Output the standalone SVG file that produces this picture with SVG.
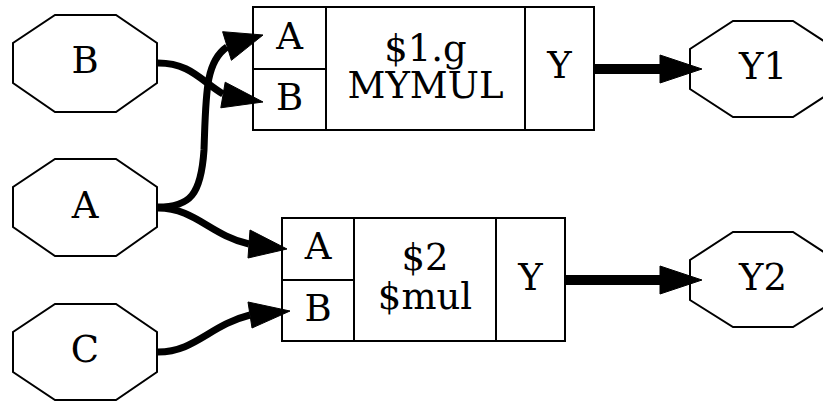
<svg xmlns="http://www.w3.org/2000/svg" width="823" height="401" viewBox="0 0 823 401">
<style>
.oct{fill:#fff;stroke:#000;stroke-width:2}
.box{fill:#fff;stroke:#000;stroke-width:2}
.div{fill:none;stroke:#000;stroke-width:2}
text{font-family:"DejaVu Serif","Liberation Serif",serif;font-size:37px;text-anchor:middle;fill:#000}
.e{fill:none;stroke:#000;stroke-width:7}
.eo{fill:none;stroke:#000;stroke-width:10}
.ah{fill:#000;stroke:#000;stroke-width:1}
</style>
<rect width="823" height="401" fill="#fff"/>
<g id="nB"><polygon class="oct" points="55,15 116,15 157,43 157,83 116,112 55,112 13,83 13,43"/><text x="85" y="73">B</text></g>
<g id="nA"><polygon class="oct" points="55,159 116,159 157,187 157,227 116,256 55,256 13,227 13,187"/><text x="85" y="218">A</text></g>
<g id="nC"><polygon class="oct" points="55,304 116,304 157,332 157,372 116,400 55,400 13,372 13,332"/><text x="85" y="362">C</text></g>
<g id="nY1"><polygon class="oct" points="733,21 793,21 836,49 836,89 793,117 733,117 690,89 690,49"/><text x="763" y="79">Y1</text></g>
<g id="nY2"><polygon class="oct" points="733,232 793,232 836,260 836,300 793,327 733,327 690,300 690,260"/><text x="763" y="290">Y2</text></g>
<g id="c1">
<rect class="box" x="253" y="7" width="341" height="123"/>
<path class="div" d="M326,7V130M525,7V130M253,69H326"/>
<text x="289.5" y="49">A</text><text x="289.5" y="110">B</text>
<text x="425.5" y="61">$1.g</text><text x="425.5" y="98">MYMUL</text>
<text x="559.5" y="78">Y</text>
</g>
<g id="c2">
<rect class="box" x="282" y="218" width="283" height="123"/>
<path class="div" d="M354,218V341M496,218V341M282,280H354"/>
<text x="318" y="259">A</text><text x="318" y="321">B</text>
<text x="425" y="270">$2</text><text x="425" y="309">$mul</text>
<text x="530.5" y="290">Y</text>
</g>
<g id="edges">
<path class="e" d="M158,207 C190,207 201,195 204,150 C206,95 205,62 227,47"/>
<polygon class="ah" points="263,35 222.6,31.7 231.4,60.3"/>
<path class="e" d="M158,63 C190,63 200,80 223,94"/>
<polygon class="ah" points="263,102 225.2,82.2 220.8,107.8"/>
<path class="e" d="M158,208 C195,208 210,235 249,244"/>
<polygon class="ah" points="287,249 250,230 248,258"/>
<path class="e" d="M158,352 C195,352 210,325 250,315"/>
<polygon class="ah" points="290,311 248,302 252,328"/>
<path class="eo" d="M595,69H660"/>
<polygon class="ah" points="702,69 660,55 660,83"/>
<path class="eo" d="M566,280H660"/>
<polygon class="ah" points="702,280 660,266 660,294"/>
</g>
</svg>
